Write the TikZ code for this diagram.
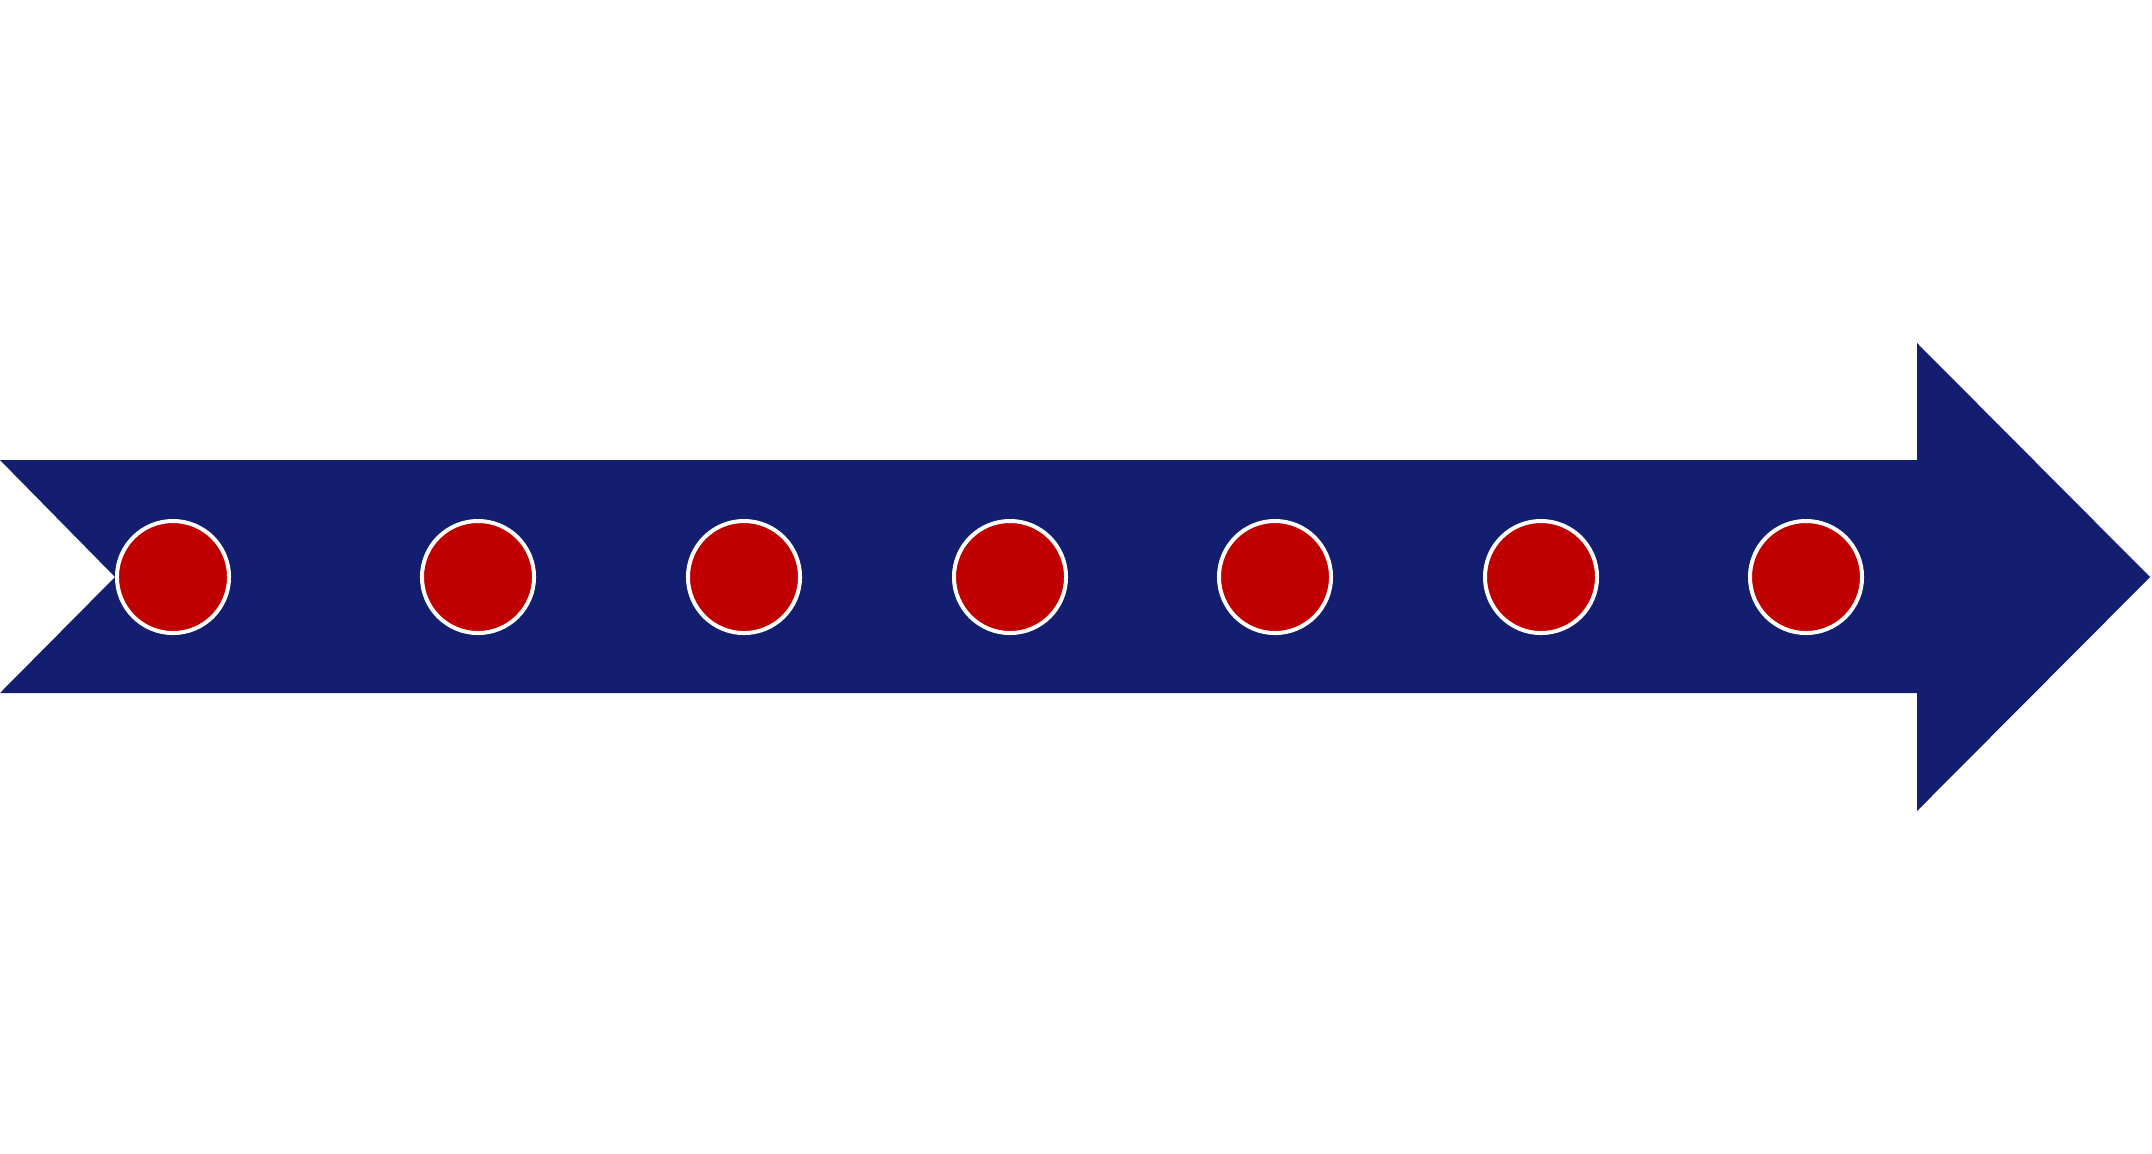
\documentclass[tikz,border=0pt]{standalone}
\definecolor{navy}{HTML}{131E70}
\definecolor{dotred}{HTML}{C00000}
\begin{document}
\begin{tikzpicture}[x=0.01cm,y=-0.01cm,
  dot/.style={circle,fill=dotred,draw=white,line width=0.04cm,minimum size=1.12cm,inner sep=0pt}]
\useasboundingbox (0,0) rectangle (2152,1153);
\fill[navy] (0,460) -- (1917,460) -- (1917,343) -- (2150,577) -- (1917,811) -- (1917,693) -- (0,693) -- (115,577) -- cycle;
\foreach \i/\x in {1/173,2/478,3/744,4/1010,5/1275,6/1541,7/1806}
  \node[dot] (d\i) at (\x,577) {};
\end{tikzpicture}
\end{document}
